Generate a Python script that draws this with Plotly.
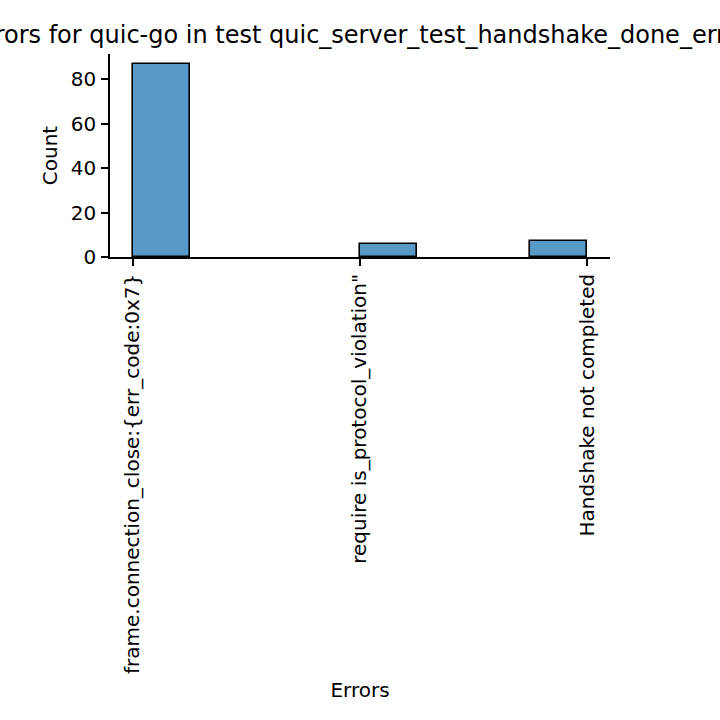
import plotly.graph_objects as go

categories = ["frame.connection_close:{err_code:0x7}",
              "require is_protocol_violation\"",
              "Handshake not completed"]
category_codes = [0, 1, 2]
bin_left_edges = [0.0, 1.0, 1.75]
bin_width = 0.25
counts = [87, 6, 7]
y_ticks = [0, 20, 40, 60, 80]
title = "Errors for quic-go in test quic_server_test_handshake_done_error"

fig = go.Figure()
fig.add_trace(go.Bar(
    x=bin_left_edges, y=counts, width=[bin_width] * len(counts), offset=0,
    marker=dict(color="rgba(31,119,180,0.75)", line=dict(color="black", width=1.6)),
))

font = "DejaVu Sans"
fs = 20
fig.update_layout(
    width=720, height=720,
    margin=dict(l=110, r=110, t=54, b=463),
    plot_bgcolor="white", paper_bgcolor="white",
    showlegend=False, bargap=0,
    font=dict(family=font, size=fs, color="black"),
    title=dict(text=title, x=0.5, xref="paper", xanchor="center",
               y=1 - 35 / 720, yref="container", yanchor="middle",
               font=dict(family=font, size=24, color="black")),
)
fig.update_xaxes(
    range=[-0.1, 2.1], tickmode="array", tickvals=category_codes, ticktext=categories,
    tickangle=-90, showgrid=False, zeroline=False,
    showline=True, linecolor="black", linewidth=1.6,
    ticks="outside", ticklen=7, tickwidth=1.6, tickcolor="black",
    tickfont=dict(family=font, size=fs, color="black"),
    ticklabelstandoff=0,
    title=dict(text="Errors", font=dict(family=font, size=fs, color="black"), standoff=10),
)
fig.update_yaxes(
    range=[0, 91.35], tickmode="array", tickvals=y_ticks,
    showgrid=False, zeroline=False,
    showline=True, linecolor="black", linewidth=1.6,
    ticks="outside", ticklen=7, tickwidth=1.6, tickcolor="black",
    tickfont=dict(family=font, size=fs, color="black"),
    ticklabelstandoff=1,
    title=dict(text="Count", font=dict(family=font, size=fs, color="black"), standoff=8),
)

fig.write_html("out.html")
